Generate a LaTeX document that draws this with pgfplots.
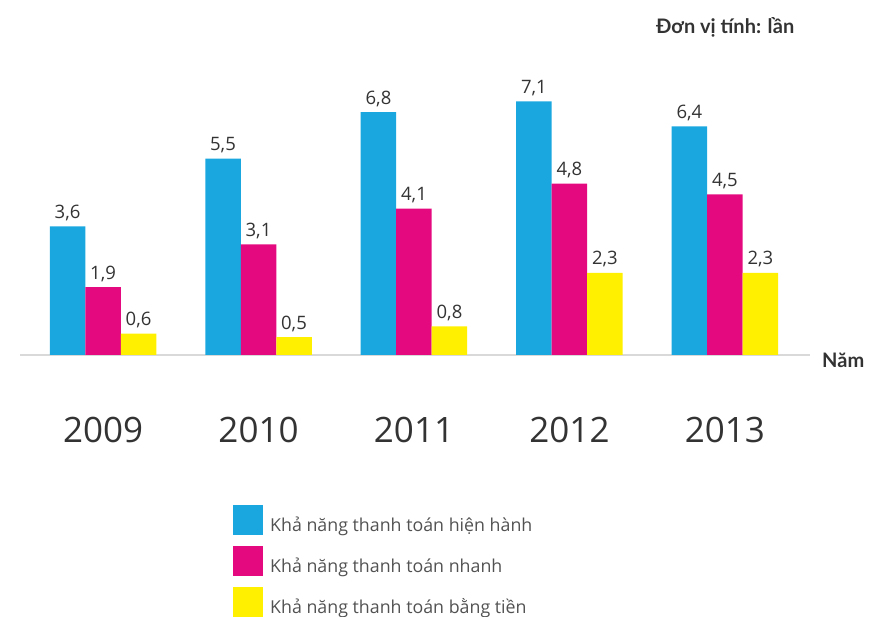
\documentclass[border=0pt]{standalone}
\usepackage{pgfplots}
\pgfplotsset{compat=1.18}
\usepackage{fontspec}
\setmainfont{Open Sans}
\newfontfamily\lato{Lato}
\definecolor{cblue}{HTML}{1AA7E0}
\definecolor{cpink}{HTML}{E5097F}
\definecolor{cyellow}{HTML}{FFF000}
\definecolor{ctext}{HTML}{333333}
\begin{document}
\begin{tikzpicture}
\useasboundingbox (0,0) rectangle (869pt,617pt);
\begin{axis}[at={(20pt,262pt)}, anchor=south west, scale only axis,
 width=790pt, height=300pt,
 xmin=-0.534, xmax=4.547, ymin=0, ymax=8.4,
 ybar=0pt, bar width=35.5pt,
 axis y line=none, axis x line*=bottom,
 x axis line style={draw=black!15,-,line width=1.2pt},
 xtick={0,1,2,3,4}, xticklabels={2009,2010,2011,2012,2013},
 major tick length=0pt,
 xticklabel style={font=\fontsize{35}{40}\selectfont, text=ctext, yshift=-59pt},
 nodes near coords, point meta=explicit symbolic,
 every node near coord/.append style={font=\fontsize{18.5}{20}\selectfont, text=ctext, yshift=2pt},
 legend image code/.code={\fill[#1] (0pt,-10pt) rectangle (30pt,20pt);},
 legend style={at={(axis description cs:0.2696,-0.5)}, anchor=north west, draw=none, fill=none,
   inner sep=0pt, font=\fontsize{17.8}{20}\selectfont, text=ctext!85, row sep=11pt,
   nodes={inner sep=0pt}, /tikz/every odd column/.append style={column sep=7pt}},
 legend cell align=left,
 clip=false]
\addplot[fill=cblue, draw=none] coordinates {(0,3.6) [3,6] (1,5.5) [5,5] (2,6.8) [6,8] (3,7.1) [7,1] (4,6.4) [6,4]};
\addplot[fill=cpink, draw=none] coordinates {(0,1.9) [1,9] (1,3.1) [3,1] (2,4.1) [4,1] (3,4.8) [4,8] (4,4.5) [4,5]};
\addplot[fill=cyellow, draw=none] coordinates {(0,0.6) [0,6] (1,0.5) [0,5] (2,0.8) [0,8] (3,2.3) [2,3] (4,2.3) [2,3]};
\legend{Khả năng thanh toán hiện hành, Khả năng thanh toán nhanh, Khả năng thanh toán bằng tiền}
\end{axis}
\node[anchor=base west, inner sep=0pt, text=ctext, font=\lato\bfseries\fontsize{20}{22}\selectfont] at (656pt,583pt) {Đơn vị tính: lần};
\node[anchor=base west, inner sep=0pt, text=ctext, font=\lato\bfseries\fontsize{20}{22}\selectfont] at (822pt,249pt) {Năm};
\end{tikzpicture}
\end{document}
